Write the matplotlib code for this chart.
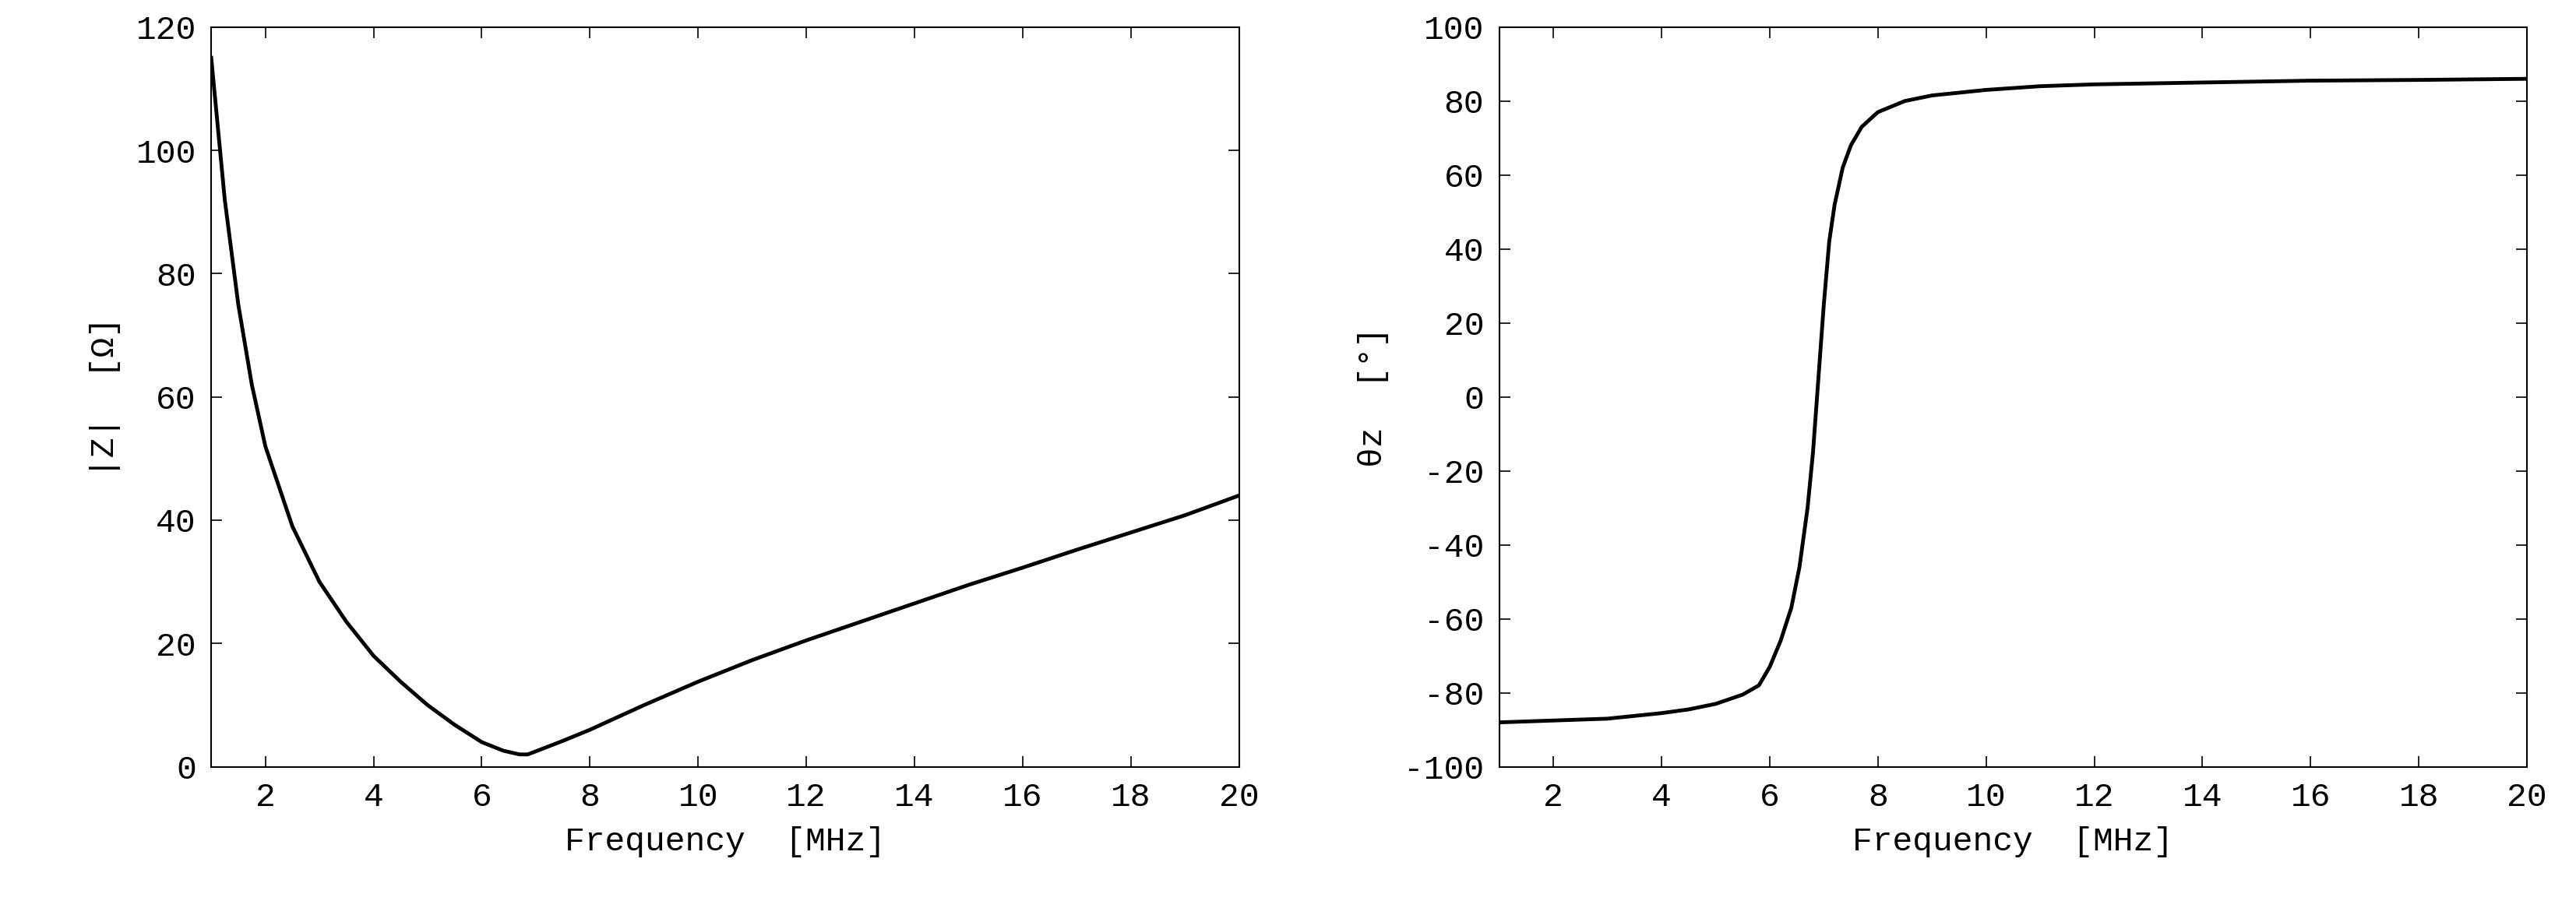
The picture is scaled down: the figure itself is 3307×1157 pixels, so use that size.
import matplotlib
matplotlib.use("Agg")
import matplotlib.pyplot as plt

freq_mag = [1.0, 1.25, 1.5, 1.75, 2.0, 2.5, 3.0, 3.5, 4.0, 4.5, 5.0, 5.5, 6.0, 6.4, 6.7, 6.85, 7.0,
            7.5, 8.0, 9.0, 10.0, 11.0, 12.0, 13.0, 14.0, 15.0, 16.0, 17.0, 18.0, 19.0, 20.0]
mag = [115, 92, 75, 62, 52, 39, 30, 23.5, 18, 13.8, 10, 6.8, 4.0, 2.6, 2.0, 2.0, 2.5,
       4.2, 6.0, 10.0, 13.8, 17.3, 20.5, 23.5, 26.5, 29.5, 32.3, 35.2, 38.0, 40.8, 44.0]

freq_ph = [1.0, 2.0, 3.0, 4.0, 4.5, 5.0, 5.5, 5.8, 6.0, 6.2, 6.4, 6.55, 6.7, 6.8, 6.9, 7.0, 7.1,
           7.2, 7.35, 7.5, 7.7, 8.0, 8.5, 9.0, 10.0, 11.0, 12.0, 14.0, 16.0, 18.0, 20.0]
phase = [-88, -87.5, -87, -85.5, -84.5, -83, -80.5, -78, -73, -66, -57, -46, -30, -15, 5, 25, 42,
         52, 62, 68, 73, 77, 80, 81.5, 83, 84, 84.5, 85, 85.5, 85.7, 86]

plt.rcParams["font.family"] = ["Liberation Mono", "DejaVu Sans Mono"]
plt.rcParams["font.size"] = 31
plt.rcParams["axes.unicode_minus"] = False

fig = plt.figure(figsize=(33.07, 11.57), dpi=100)
ax1 = fig.add_axes([0.082, 0.149, 0.399, 0.821])
ax2 = fig.add_axes([0.582, 0.149, 0.399, 0.821])

for ax, x, y, ylim, yticks, ylabel in [
        (ax1, freq_mag, mag, (0, 120), range(0, 121, 20), "|Z|  [Ω]"),
        (ax2, freq_ph, phase, (-100, 100), range(-100, 101, 20), "θz  [°]")]:
    ax.plot(x, y, color="black", lw=3.5)
    ax.set_xlim(1, 20)
    ax.set_ylim(*ylim)
    ax.set_xticks(range(2, 21, 2))
    ax.set_yticks(list(yticks))
    ax.tick_params(direction="in", length=10, width=1.2, top=True, right=True, pad=14)
    ax.set_xlabel("Frequency  [MHz]", labelpad=12)
    ax.set_ylabel(ylabel, labelpad=14)
    for s in ax.spines.values():
        s.set_linewidth(1.5)

fig.savefig("out.png", dpi=100)
